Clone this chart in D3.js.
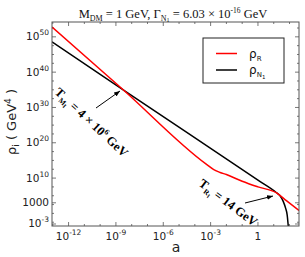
<!DOCTYPE html>
<html>
<head>
<meta charset="utf-8">
<script src="https://cdn.jsdelivr.net/npm/d3@7"></script>
<style>
  body { margin: 0; background: #fff; }
  svg { display: block; }
  .tick-label { font-family: "DejaVu Sans", sans-serif; font-size: 10.5px; fill: #222; }
  .serif { font-family: "Liberation Serif", "Times New Roman", serif; }
</style>
</head>
<body>
<svg id="chart" width="305" height="257"></svg>
<script>
// values, as log10
const logA_R = [-13.05, -8.54, -3.3, -2.8, -2.4, -2.0, -1.0, 0.0, 1.18, 1.8, 2.6];
const logRho_R = [52.8, 35.0, 14.0, 12.4, 11.6, 11.0, 9.1, 7.5, 5.8, 3.6, 0.8];
const logA_N = [-13.05, -8.54, 0.0, 1.18, 1.4, 1.6, 1.75, 1.85, 1.92, 1.95];
const logRho_N = [48.6, 35.0, 9.4, 5.84, 5.0, 3.4, 1.5, -0.4, -3.6, -5];

const xMajor = [-12, -9, -6, -3, 0];
const xMajorLabels = [["10", "-12"], ["10", "-9"], ["10", "-6"], ["10", "-3"], ["1", ""]];
const yMajor = [-3, 3, 10, 20, 30, 40, 50];
const yMajorLabels = [["10", "-3"], ["1000", ""], ["10", "10"], ["10", "20"], ["10", "30"], ["10", "40"], ["10", "50"]];

const svg = d3.select("#chart");
const plotL = 52, plotR = 299, plotT = 22, plotB = 226;

const x = d3.scaleLog().domain([10 ** -13.05, 10 ** 2.6]).range([plotL, plotR]);
const y = d3.scaleLog().domain([10 ** -3.57, 10 ** 54.2]).range([plotB, plotT]);

const axisColor = "#555";

const defs = svg.append("defs");
defs.append("clipPath").attr("id", "plotClip")
  .append("rect").attr("x", plotL).attr("y", plotT)
  .attr("width", plotR - plotL).attr("height", plotB - plotT);
defs.append("marker")
  .attr("id", "arrow")
  .attr("viewBox", "0 -5 10 10")
  .attr("refX", 10).attr("refY", 0)
  .attr("markerWidth", 6).attr("markerHeight", 6)
  .attr("orient", "auto")
  .append("path").attr("d", "M0,-4L10,0L0,4Z").attr("fill", "#000");

// ticks
const xMinor = d3.range(-13, 3).filter((d) => !xMajor.includes(d));
const yMinor = d3.range(-2.5, 54, 2.5).filter((d) => !yMajor.includes(d));
const tickG = svg.append("g").attr("stroke", axisColor).attr("stroke-width", 0.8);
function xTicks(vals, len) {
  vals.forEach((v) => {
    const px = x(10 ** v);
    tickG.append("line").attr("x1", px).attr("x2", px).attr("y1", plotB).attr("y2", plotB - len);
    tickG.append("line").attr("x1", px).attr("x2", px).attr("y1", plotT).attr("y2", plotT + len);
  });
}
function yTicks(vals, len) {
  vals.forEach((v) => {
    const py = y(10 ** v);
    tickG.append("line").attr("y1", py).attr("y2", py).attr("x1", plotL).attr("x2", plotL + len);
    tickG.append("line").attr("y1", py).attr("y2", py).attr("x1", plotR).attr("x2", plotR - len);
  });
}
xTicks(xMajor, 4);
xTicks(xMinor, 2);
yTicks(yMajor, 4);
yTicks(yMinor, 2);

// tick labels
xMajor.forEach((v, i) => {
  const t = svg.append("text").attr("class", "tick-label")
    .attr("x", x(10 ** v)).attr("y", 240).attr("text-anchor", "middle");
  t.append("tspan").text(xMajorLabels[i][0]);
  if (xMajorLabels[i][1]) {
    t.append("tspan").attr("dy", -5).attr("font-size", 7.5).text(xMajorLabels[i][1]);
  }
});
yMajor.forEach((v, i) => {
  const t = svg.append("text").attr("class", "tick-label")
    .attr("x", plotL - 3).attr("y", y(10 ** v) + 3.5).attr("text-anchor", "end");
  t.append("tspan").text(yMajorLabels[i][0]);
  if (yMajorLabels[i][1]) {
    t.append("tspan").attr("dy", -5).attr("font-size", 7.5).text(yMajorLabels[i][1]);
  }
});

// curves
const line = d3.line()
  .x((d) => x(d[0]))
  .y((d) => y(d[1]))
  .curve(d3.curveMonotoneX);
const redData = logA_R.map((v, i) => [10 ** v, 10 ** logRho_R[i]]);
const blackData = logA_N.map((v, i) => [10 ** v, 10 ** logRho_N[i]]);
const plotG = svg.append("g").attr("clip-path", "url(#plotClip)");
plotG.append("path").datum(blackData).attr("d", line)
  .attr("fill", "none").attr("stroke", "#000").attr("stroke-width", 1.5);
plotG.append("path").datum(redData).attr("d", line)
  .attr("fill", "none").attr("stroke", "#f00").attr("stroke-width", 1.5);

// frame
svg.append("rect").attr("x", plotL).attr("y", plotT)
  .attr("width", plotR - plotL).attr("height", plotB - plotT)
  .attr("fill", "none").attr("stroke", axisColor).attr("stroke-width", 1);

// title
const title = svg.append("text").attr("class", "serif")
  .attr("x", 173).attr("y", 18).attr("text-anchor", "middle")
  .attr("font-size", 12.5).attr("fill", "#111");
title.append("tspan").text("M");
title.append("tspan").attr("dy", 2.5).attr("font-size", 8).text("DM");
title.append("tspan").attr("dy", -2.5).text(" = 1 GeV, Γ");
title.append("tspan").attr("dy", 2.5).attr("font-size", 8).text("N");
title.append("tspan").attr("dy", 1.5).attr("font-size", 6).text("1");
title.append("tspan").attr("dy", -4).text(" = 6.03 × 10");
title.append("tspan").attr("dy", -5).attr("font-size", 7.5).text("-16");
title.append("tspan").attr("dy", 5).text(" GeV");

// axis titles
const yl = svg.append("text")
  .attr("transform", "translate(16,122) rotate(-90)")
  .attr("text-anchor", "middle")
  .attr("font-family", "DejaVu Sans, sans-serif").attr("font-size", 13).attr("fill", "#222");
yl.append("tspan").text("ρ");
yl.append("tspan").attr("dy", 3).attr("font-size", 9).text("i");
yl.append("tspan").attr("dy", -3).text(" ( GeV");
yl.append("tspan").attr("dy", -5).attr("font-size", 9).text("4");
yl.append("tspan").attr("dy", 5).text(" )");

svg.append("text").attr("x", 176).attr("y", 252).attr("text-anchor", "middle")
  .attr("font-family", "DejaVu Sans, sans-serif").attr("font-size", 14).attr("fill", "#222")
  .text("a");

// legend
const lg = svg.append("g");
lg.append("rect").attr("x", 203).attr("y", 38).attr("width", 81).attr("height", 45)
  .attr("fill", "#fff").attr("stroke", "#222").attr("stroke-width", 1);
const legendItems = [["R", "#f00", 53.5], ["N", "#000", 70]];
legendItems.forEach(([sub, col, ly]) => {
  lg.append("line").attr("x1", 216).attr("x2", 237).attr("y1", ly).attr("y2", ly)
    .attr("stroke", col).attr("stroke-width", 1.5);
  const t = lg.append("text").attr("x", 249).attr("y", ly + 4)
    .attr("font-family", "DejaVu Sans, sans-serif").attr("font-size", 12).attr("fill", "#111");
  t.append("tspan").text("ρ");
  t.append("tspan").attr("dy", 3).attr("font-size", 7).text(sub);
  if (sub === "N") t.append("tspan").attr("dy", 1.5).attr("font-size", 5.5).text("1");
});

// annotations
function annot(tx, ty, angle, sub, rest, sup) {
  const t = svg.append("text").attr("class", "serif")
    .attr("transform", `translate(${tx},${ty}) rotate(${angle})`)
    .attr("font-size", 12.5).attr("font-weight", "bold").attr("fill", "#000");
  t.append("tspan").text("T");
  t.append("tspan").attr("dy", 3).attr("font-size", 7.5).text(sub);
  t.append("tspan").attr("dy", 1.5).attr("font-size", 6).text("I");
  t.append("tspan").attr("dy", -4.5).text(rest);
  if (sup) {
    t.append("tspan").attr("dy", -5).attr("font-size", 8).text(sup);
    t.append("tspan").attr("dy", 5).text(" GeV");
  }
}
annot(54, 93, 43, "M", " = 4 × 10", "6");
annot(198, 185, 37, "R", " = 14 GeV", "");

svg.append("line").attr("x1", 96).attr("y1", 108).attr("x2", 120).attr("y2", 91)
  .attr("stroke", "#000").attr("stroke-width", 1).attr("marker-end", "url(#arrow)");
svg.append("line").attr("x1", 245).attr("y1", 203).attr("x2", 273).attr("y2", 196)
  .attr("stroke", "#000").attr("stroke-width", 1).attr("marker-end", "url(#arrow)");
</script>
</body>
</html>
